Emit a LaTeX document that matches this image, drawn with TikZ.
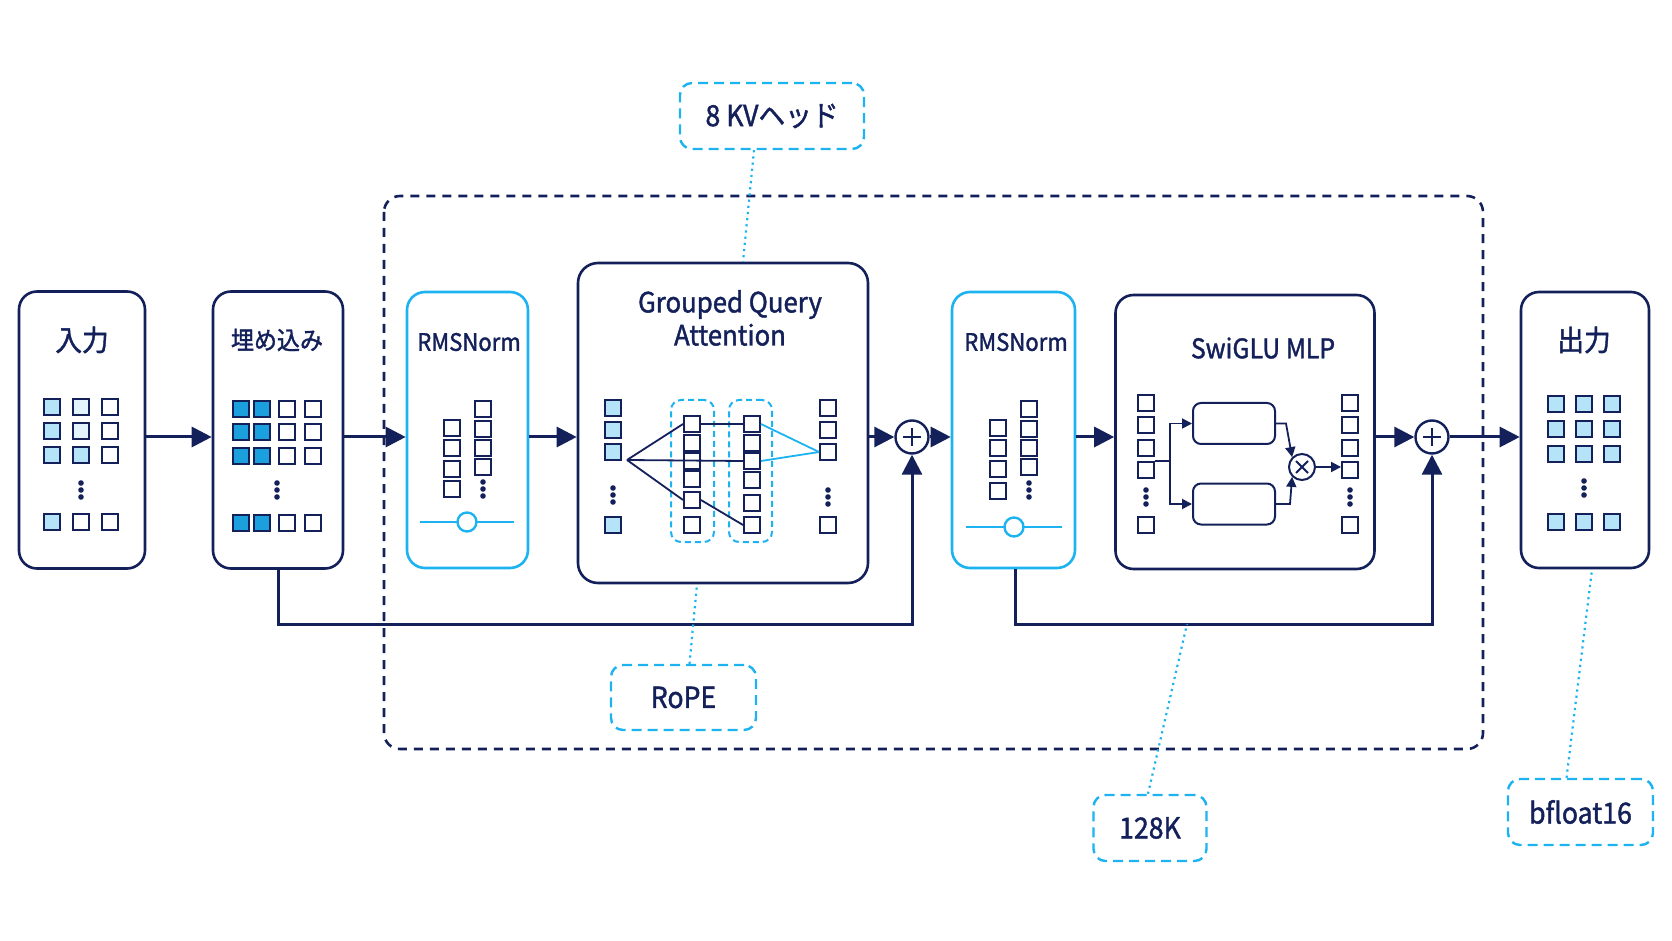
\documentclass[tikz,border=0pt]{standalone}
\usepackage{fontspec}
\setmainfont{Noto Sans CJK JP}[FakeStretch=0.92, FakeBold=1.4]
\usepackage{tikz}
\usetikzlibrary{arrows.meta}
\definecolor{navy}{HTML}{13205A}
\definecolor{skyc}{HTML}{1DB2F0}
\definecolor{fillL}{HTML}{B5E3F7}
\definecolor{fillVL}{HTML}{E3F4FC}
\definecolor{fillB}{HTML}{1BA0DD}
\newcommand{\vdotsAt}[2]{\foreach \d in {-7,0,7} \fill[navy] (#1,#2+\d) circle (1.4pt);}

\begin{document}
\begin{tikzpicture}[x=0.5pt,y=-0.5pt]
	\tikzset{
		stage/.style={draw=navy, line width=1.3pt, rounded corners=9pt, fill=white, inner sep=0pt},
		normstage/.style={stage, draw=skyc},
		title/.style={text=navy, inner sep=0pt, font=\fontsize{14.5}{17}\selectfont},
		cell/.style={draw=navy, line width=0.95pt, minimum size=8pt, inner sep=0pt, fill=white},
		group/.style={draw=skyc, line width=1pt, dash pattern=on 3pt off 2pt, rounded corners=5pt, inner sep=0pt},
		gate/.style={draw=navy, line width=1pt, rounded corners=4pt, inner sep=0pt, minimum width=41pt, minimum height=20.5pt},
		tag/.style={draw=skyc, line width=1.2pt, dash pattern=on 5pt off 3pt, rounded corners=6pt, fill=white, text=navy, inner sep=0pt, font=\fontsize{14.5}{17}\selectfont},
		sum/.style={circle, draw=navy, line width=1.2pt, fill=white, minimum size=16.5pt, inner sep=0pt},
		knob/.style={circle, draw=skyc, line width=1.2pt, fill=white, minimum size=9.5pt, inner sep=0pt},
		flow/.style={navy, line width=1.5pt, -{Triangle[length=10pt,width=10pt]}},
		wire/.style={navy, line width=0.9pt},
		wireC/.style={skyc, line width=0.9pt},
		small/.style={navy, line width=0.9pt, -{Triangle[length=5pt,width=5pt]}},
		note/.style={skyc, line width=1.1pt, dotted}
	}
	\useasboundingbox (0,0) rectangle (1672,941);
	\draw[navy, line width=1.3pt, dash pattern=on 4.5pt off 3.5pt, rounded corners=8pt] (384,196) rectangle (1483,749);

	\node[stage, minimum width=63pt, minimum height=138.5pt] (inp) at (82,430) {};
	\node[stage, minimum width=65pt, minimum height=138.5pt] (emb) at (278,430) {};
	\node[normstage, minimum width=60.5pt, minimum height=138pt] (normA) at (467.5,430) {};
	\node[stage, minimum width=145pt, minimum height=160pt, rounded corners=10pt] (gqa) at (723,423) {};
	\node[sum] (addA) at (912,437) {};
	\node[normstage, minimum width=61.5pt, minimum height=138pt] (normB) at (1013.5,430) {};
	\node[stage, minimum width=129.5pt, minimum height=137pt] (mlp) at (1245,432) {};
	\node[sum] (addB) at (1432,437) {};
	\node[stage, minimum width=64pt, minimum height=138pt] (outp) at (1585,430) {};

	\node[title] (inpT) at (82,340) {入力};
	\node[title, font=\fontsize{12.5}{15}\selectfont] (embT) at (277,340) {埋め込み};
	\node[title, font=\fontsize{12}{14}\selectfont] (normAT) at (469,342) {RMSNorm};
	\node[title, align=center, font=\fontsize{14}{16.5}\selectfont] (gqaT) at (730,318) {Grouped Query\\Attention};
	\node[title, font=\fontsize{12}{14}\selectfont] (normBT) at (1016,342) {RMSNorm};
	\node[title, font=\fontsize{13.5}{16}\selectfont] (mlpT) at (1263,348) {SwiGLU MLP};
	\node[title] (outpT) at (1584,340) {出力};

	\foreach \x/\y/\f [count=\i] in {52/407/fillL, 81/407/fillVL, 110/407/white, 52/431/fillL, 81/431/fillVL, 110/431/white, 52/455/fillL, 81/455/fillL, 110/455/white, 52/522/fillL, 81/522/white, 110/522/white}
		\node[cell, fill=\f] (inC\i) at (\x,\y) {};
	\vdotsAt{81}{490}

	\foreach \y in {409,432,456,523} {
		\foreach \x/\f in {241/fillB, 262/fillB, 287/white, 313/white}
			\node[cell, fill=\f] (embC\x-\y) at (\x,\y) {};
	}
	\vdotsAt{277}{490}

	\foreach \y [count=\i] in {428,448,469,489} \node[cell] (nAl\i) at (452,\y) {};
	\foreach \y [count=\i] in {409,429,448,467} \node[cell] (nAr\i) at (483,\y) {};
	\vdotsAt{483}{489}
	\draw[skyc, line width=1.2pt] (420,522) -- (514,522);
	\node[knob] (knobA) at (467,522) {};

	\foreach \y [count=\i] in {408,430,452,525} \node[cell, fill=fillL] (qi\i) at (613,\y) {};
	\vdotsAt{613}{495}
	\node[group, minimum width=21.5pt, minimum height=71pt] (grpA) at (692.5,471) {};
	\node[group, minimum width=21.5pt, minimum height=71pt] (grpB) at (750.5,471) {};
	\foreach \y [count=\i] in {424,443,461,479,500,525} \node[cell] (qa\i) at (692,\y) {};
	\foreach \y [count=\i] in {424,443,461,480,503,525} \node[cell] (qb\i) at (752,\y) {};
	\foreach \y [count=\i] in {408,430,452,525} \node[cell] (qo\i) at (828,\y) {};
	\vdotsAt{828}{497}
	\coordinate (fan) at (627,460);
	\draw[wire] (fan) -- (qa1.west) (qa1.east) -- (qb1.west);
	\draw[wire] (fan) -- (qb3.west);
	\draw[wire] (fan) -- (qa5.west) (qa5.east) -- (qb6.west);
	\draw[wireC] (qb1.east) -- (qo3.west);
	\draw[wireC] (qb3.east) -- (qo3.west);

	\foreach \y [count=\i] in {428,448,469,491} \node[cell] (nBl\i) at (998,\y) {};
	\foreach \y [count=\i] in {409,429,448,467} \node[cell] (nBr\i) at (1029,\y) {};
	\vdotsAt{1029}{490}
	\draw[skyc, line width=1.2pt] (966,527) -- (1062,527);
	\node[knob] (knobB) at (1014,527) {};

	\foreach \y [count=\i] in {403,425,448,470,525} {
		\node[cell] (ml\i) at (1146,\y) {};
		\node[cell] (mr\i) at (1350,\y) {};
	}
	\vdotsAt{1146}{497}
	\vdotsAt{1350}{497}
	\node[gate] (gateA) at (1234,423.5) {};
	\node[gate] (gateB) at (1234,504) {};
	\node[circle, draw=navy, line width=1pt, minimum size=13pt, inner sep=0pt] (mul) at (1302,467) {};
	\draw[wire] (mul) ++(-6,-6) -- ++(12,12) (mul) ++(6,-6) -- ++(-12,12);
	\draw[wire] (ml4.north east) -- ++(15,0) coordinate (split);
	\draw[small] (split) |- (gateA.west);
	\draw[small] (split) |- (gateB.west);
	\draw[small] (gateA.east) -- ++(10,0) -- (mul.north west);
	\draw[small] (gateB.east) -- ++(14,0) -- (mul.south west);
	\draw[small] (mul.east) -- (mr4.west |- mul);

	\foreach \x/\y [count=\i] in {1556/404, 1584/404, 1612/404, 1556/429, 1584/429, 1612/429, 1556/454, 1584/454, 1612/454, 1556/522, 1584/522, 1612/522}
		\node[cell, fill=fillL] (outC\i) at (\x,\y) {};
	\vdotsAt{1584}{488}

	\draw[navy, line width=1.2pt] (addA) ++(-9,0) -- ++(18,0) (addA) ++(0,-9) -- ++(0,18);
	\draw[navy, line width=1.2pt] (addB) ++(-9,0) -- ++(18,0) (addB) ++(0,-9) -- ++(0,18);

	\draw[flow] (inp.east |- addA) -- (emb.west |- addA);
	\draw[flow] (emb.east |- addA) -- (normA.west |- addA);
	\draw[flow] (normA.east |- addA) -- (gqa.west |- addA);
	\draw[flow] (gqa.east |- addA) -- (addA.west);
	\draw[flow] (addA.east) -- (normB.west |- addA);
	\draw[flow] (normB.east |- addA) -- (mlp.west |- addA);
	\draw[flow] (mlp.east |- addB) -- (addB.west);
	\draw[flow] (addB.east) -- (outp.west |- addB);

	\coordinate (resA) at (278,624);
	\coordinate (resB) at (1015,624);
	\coordinate (tapK) at (1187,624);
	\draw[flow] (emb.south) -- (resA) -| (addA.south);
	\draw[flow] (normB.south -| resB) -- (resB) -| (addB.south);

	\node[tag, minimum width=92pt, minimum height=33pt] (kv) at (772,116) {8 KVヘッド};
	\node[tag, minimum width=72.5pt, minimum height=32.5pt] (rope) at (683.5,697.5) {RoPE};
	\node[tag, minimum width=56.5pt, minimum height=33pt] (ctx) at (1150,828) {128K};
	\node[tag, minimum width=72.5pt, minimum height=33pt] (prec) at (1580.5,812) {bfloat16};

	\draw[note] ([xshift=-9pt]kv.south) -- ([xshift=10pt]gqa.north);
	\draw[note] ([xshift=3pt]rope.north) -- ([xshift=-13pt]gqa.south);
	\draw[note] ([xshift=-1pt]ctx.north) -- (tapK);
	\draw[note] ([xshift=-7pt]prec.north) -- ([xshift=3.5pt]outp.south);
\end{tikzpicture}
\end{document}
